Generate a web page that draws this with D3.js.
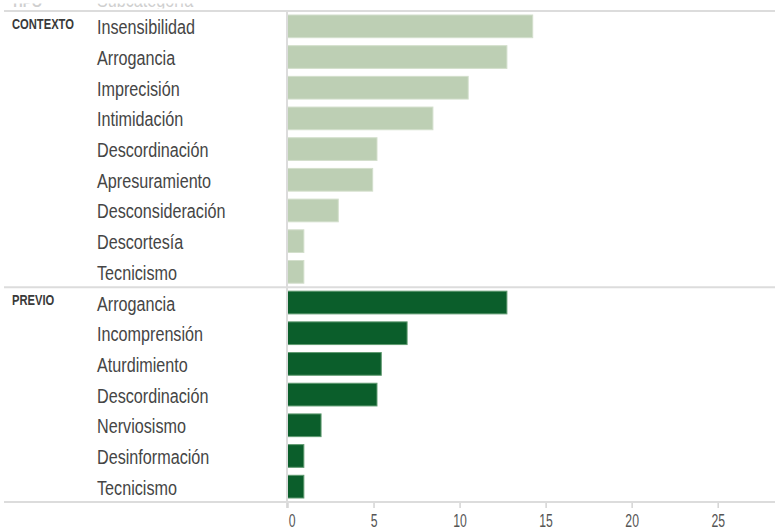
<!DOCTYPE html>
<html><head><meta charset="utf-8">
<script src="https://cdn.jsdelivr.net/npm/d3@7"></script>
<style>
html,body{margin:0;padding:0;background:#fff;}
svg{display:block;}
</style></head>
<body>
<svg id="chart" width="775" height="531"></svg>
<script>
const groups = ["CONTEXTO", "PREVIO"];
const contextoCategories = ["Insensibilidad","Arrogancia","Imprecisión","Intimidación","Descordinación","Apresuramiento","Desconsideración","Descortesía","Tecnicismo"];
const contextoValues = [14.25, 12.75, 10.5, 8.45, 5.2, 4.95, 2.95, 0.95, 0.95];
const previoCategories = ["Arrogancia","Incomprensión","Aturdimiento","Descordinación","Nerviosismo","Desinformación","Tecnicismo"];
const previoValues = [12.75, 6.95, 5.45, 5.2, 1.95, 0.95, 0.95];
const tickValues = [0, 5, 10, 15, 20, 25];
const headerLabels = ["Tipo", "Subcategoría"];

const rows = [];
contextoCategories.forEach((c,i)=>rows.push({group:groups[0], cat:c, value:contextoValues[i], key:groups[0]+"|"+c, first:i===0}));
previoCategories.forEach((c,i)=>rows.push({group:groups[1], cat:c, value:previoValues[i], key:groups[1]+"|"+c, first:i===0}));

const svg = d3.select("#chart");
const W = 775, topY = 11, bottomY = 502;
const x = d3.scaleLinear().domain([0,25]).range([287.5, 717.7]);
const y = d3.scaleBand().domain(rows.map(r=>r.key)).range([topY,bottomY]).paddingInner(0.26).paddingOuter(0.13);
const colors = {CONTEXTO:"#bdcfb4", PREVIO:"#0b5e2b"};
const strokes = {CONTEXTO:"#d3dfcc", PREVIO:"#5f9a70"};

// header (scrolled out of view, only its lower edge shows)
svg.append("clipPath").attr("id","hdrclip").append("rect")
  .attr("x",0).attr("y",3.6).attr("width",W).attr("height",5);
const hdr = svg.append("g").attr("clip-path","url(#hdrclip)");
hdr.append("text").attr("transform","translate(11,6.5) scale(0.95,1)")
  .attr("font-family","Liberation Sans, Arial, sans-serif").attr("font-size",14).attr("font-weight","bold")
  .attr("fill","#cfcfcf").text(headerLabels[0].toUpperCase());
hdr.append("text").attr("transform","translate(97,6.5) scale(0.77,1)")
  .attr("font-family","Liberation Sans, Arial, sans-serif").attr("font-size",21)
  .attr("fill","#cfcfcf").text(headerLabels[1]);

// horizontal separators
const step = y.step();
const sepYs = [topY, topY + contextoCategories.length*step];
svg.selectAll("line.sep").data(sepYs).join("line").attr("class","sep")
  .attr("x1",4).attr("x2",W).attr("y1",d=>d).attr("y2",d=>d)
  .attr("stroke","#dcdcdc").attr("stroke-width",2);

// bars
svg.selectAll("rect.bar").data(rows).join("rect").attr("class","bar")
  .attr("x",x(0)).attr("y",d=>y(d.key))
  .attr("width",d=>x(d.value)-x(0)).attr("height",y.bandwidth())
  .attr("fill",d=>colors[d.group]).attr("stroke",d=>strokes[d.group]).attr("stroke-width",1);

// vertical axis line
svg.append("line").attr("x1",287).attr("x2",287).attr("y1",topY).attr("y2",bottomY+6)
  .attr("stroke","#dcdcdc").attr("stroke-width",2);

// category labels
svg.selectAll("text.cat").data(rows).join("text").attr("class","cat")
  .attr("transform",d=>`translate(97,${y(d.key)+y.bandwidth()/2+8}) scale(0.77,1)`)
  .attr("font-family","Liberation Sans, Arial, sans-serif").attr("font-size",21)
  .attr("fill","#454545").text(d=>d.cat);

// group labels
svg.selectAll("text.grp").data(rows.filter(r=>r.first)).join("text").attr("class","grp")
  .attr("transform",d=>`translate(12,${y(d.key)-y.paddingInner()*step/2+17.5}) scale(0.8,1)`)
  .attr("font-family","Liberation Sans, Arial, sans-serif").attr("font-size",14).attr("font-weight","bold")
  .attr("fill","#3a3a3a").text(d=>d.group);

// bottom axis
const axis = d3.axisBottom(x).tickValues(tickValues).tickSize(6).tickPadding(6);
const ax = svg.append("g").attr("transform",`translate(0,${bottomY})`).call(axis);
ax.select(".domain").remove();
ax.selectAll(".tick line").attr("stroke","#d4d4d4").attr("stroke-width",1.5);
ax.selectAll(".tick text").attr("font-family","Liberation Sans, Arial, sans-serif").attr("font-size",18)
  .attr("fill","#555").attr("dy",null).attr("y",25.5).attr("x",d=>d===0?6:0)
  .attr("text-anchor","middle").attr("transform","scale(0.68,1)");
// bottom line
svg.append("line").attr("x1",4).attr("x2",W).attr("y1",bottomY).attr("y2",bottomY)
  .attr("stroke","#dcdcdc").attr("stroke-width",2);
</script>
</body></html>
